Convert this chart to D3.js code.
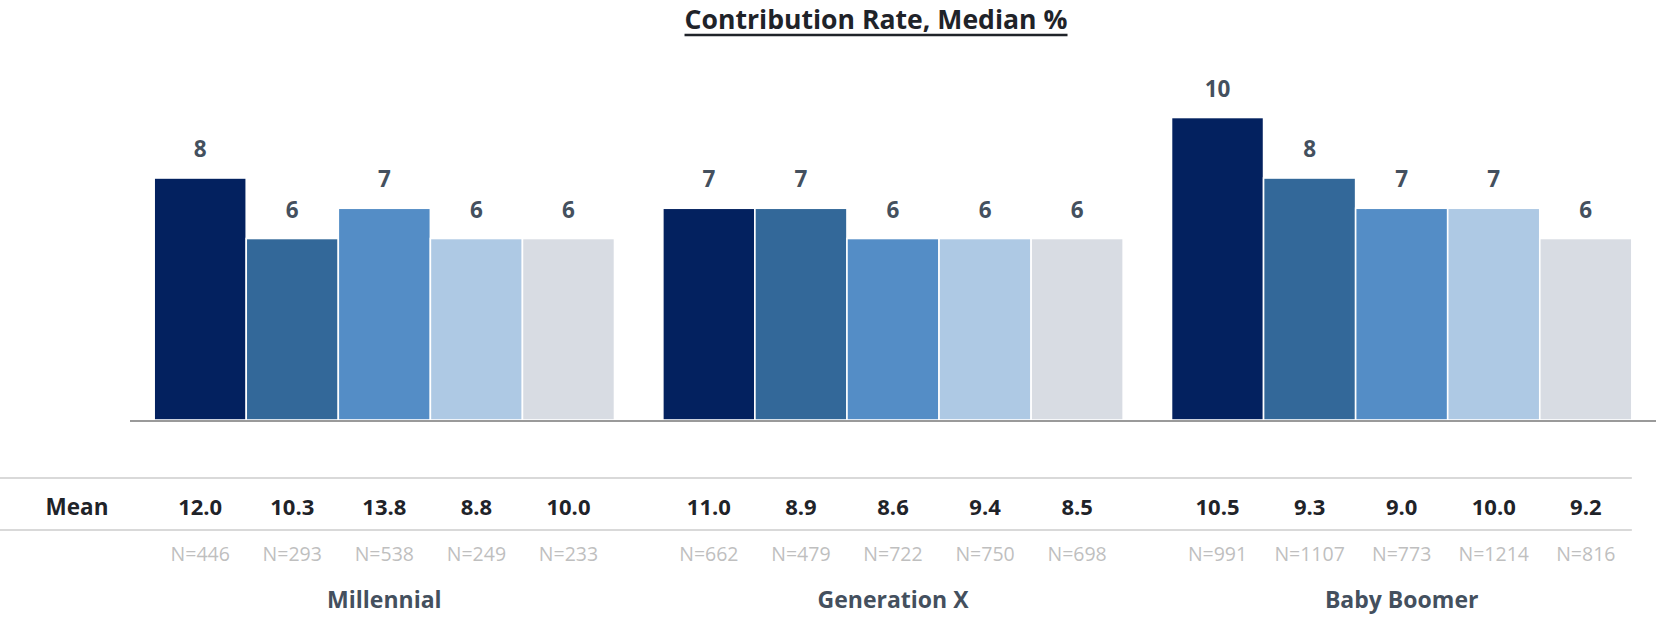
<!DOCTYPE html>
<html>
<head>
<meta charset="utf-8">
<script src="https://cdn.jsdelivr.net/npm/d3@7"></script>
<style>
  html, body { margin: 0; padding: 0; background: #fff; }
  svg { display: block; font-family: "Open Sans", Lato, sans-serif; }
</style>
</head>
<body>
<svg id="chart" width="1656" height="617"></svg>
<script>
// Generations and the five sub-groups shown for each
const groups = ["Millennial", "Generation X", "Baby Boomer"];
const seriesKeys = ["s1", "s2", "s3", "s4", "s5"];
const seriesColors = ["#03215f", "#336899", "#548dc6", "#aec9e4", "#d8dce3"];

// Median contribution rate (%) per bar
const medianMillennial = [8, 6, 7, 6, 6];
const medianGenX = [7, 7, 6, 6, 6];
const medianBoomer = [10, 8, 7, 7, 6];

// Mean contribution rate (%) shown in the table row
const meanMillennial = [12.0, 10.3, 13.8, 8.8, 10.0];
const meanGenX = [11.0, 8.9, 8.6, 9.4, 8.5];
const meanBoomer = [10.5, 9.3, 9.0, 10.0, 9.2];

// Sample sizes
const nMillennial = [446, 293, 538, 249, 233];
const nGenX = [662, 479, 722, 750, 698];
const nBoomer = [991, 1107, 773, 1214, 816];

const medians = [medianMillennial, medianGenX, medianBoomer];
const means = [meanMillennial, meanGenX, meanBoomer];
const counts = [nMillennial, nGenX, nBoomer];

const rows = [];
groups.forEach((g, gi) => {
  seriesKeys.forEach((k, si) => {
    rows.push({ group: g, key: k, si, median: medians[gi][si], mean: means[gi][si], n: counts[gi][si] });
  });
});

const svg = d3.select("#chart");

const x0 = d3.scaleBand().domain(groups).range([130, 1656]).paddingInner(0.095).paddingOuter(0.0475);
const x1 = d3.scaleBand().domain(seriesKeys).range([0, x0.bandwidth()]).padding(0);
const y = d3.scaleLinear().domain([0, 12]).range([420, 57]);
const color = d3.scaleOrdinal().domain(seriesKeys).range(seriesColors);

// Title (underlined)
const title = svg.append("text")
  .attr("x", 876).attr("y", 29)
  .attr("text-anchor", "middle")
  .attr("font-size", 26.6).attr("font-weight", 700)
  .attr("fill", "#1f2329")
  .text("Contribution Rate, Median %");
const tb = title.node().getBBox();
svg.append("line")
  .attr("x1", tb.x).attr("x2", tb.x + tb.width)
  .attr("y1", 35).attr("y2", 35)
  .attr("stroke", "#1f2329").attr("stroke-width", 2.4);

// Bars
const bx = d => x0(d.group) + x1(d.key);
svg.append("g").selectAll("rect").data(rows).join("rect")
  .attr("x", bx)
  .attr("y", d => y(d.median))
  .attr("width", x1.bandwidth())
  .attr("height", d => y(0) - y(d.median))
  .attr("fill", d => color(d.key))
  .attr("stroke", "#ffffff").attr("stroke-width", 1.6);

// Value labels
svg.append("g").selectAll("text").data(rows).join("text")
  .attr("x", d => bx(d) + x1.bandwidth() / 2)
  .attr("y", d => y(d.median) - 21)
  .attr("text-anchor", "middle")
  .attr("font-size", 22.5).attr("font-weight", 700)
  .attr("fill", "#44505e")
  .text(d => d3.format("d")(d.median));

// Baseline
svg.append("line")
  .attr("x1", 130).attr("x2", 1656)
  .attr("y1", y(0) + 1).attr("y2", y(0) + 1)
  .attr("stroke", "#9a9a9a").attr("stroke-width", 2);

// Table rules
const tableRight = x0(groups[2]) + x0.bandwidth();
[478, 530].forEach(yy => {
  svg.append("line")
    .attr("x1", 0).attr("x2", tableRight)
    .attr("y1", yy).attr("y2", yy)
    .attr("stroke", "#d9d9d9").attr("stroke-width", 2);
});

svg.append("text")
  .attr("x", 77).attr("y", 515)
  .attr("text-anchor", "middle")
  .attr("font-size", 22.5).attr("font-weight", 700)
  .attr("fill", "#1f2329")
  .text("Mean");

// Mean values
svg.append("g").selectAll("text").data(rows).join("text")
  .attr("x", d => bx(d) + x1.bandwidth() / 2)
  .attr("y", 515)
  .attr("text-anchor", "middle")
  .attr("font-size", 22).attr("font-weight", 700)
  .attr("fill", "#1f2329")
  .text(d => d3.format(".1f")(d.mean));

// Sample sizes
svg.append("g").selectAll("text").data(rows).join("text")
  .attr("x", d => bx(d) + x1.bandwidth() / 2)
  .attr("y", 561)
  .attr("text-anchor", "middle")
  .attr("font-size", 19.5)
  .attr("fill", "#bfbfbf")
  .text(d => "N=" + d.n);

// Group labels
svg.append("g").selectAll("text").data(groups).join("text")
  .attr("x", g => x0(g) + x0.bandwidth() / 2)
  .attr("y", 608)
  .attr("text-anchor", "middle")
  .attr("font-size", 23).attr("font-weight", 700)
  .attr("fill", "#44505e")
  .text(g => g);
</script>
</body>
</html>
